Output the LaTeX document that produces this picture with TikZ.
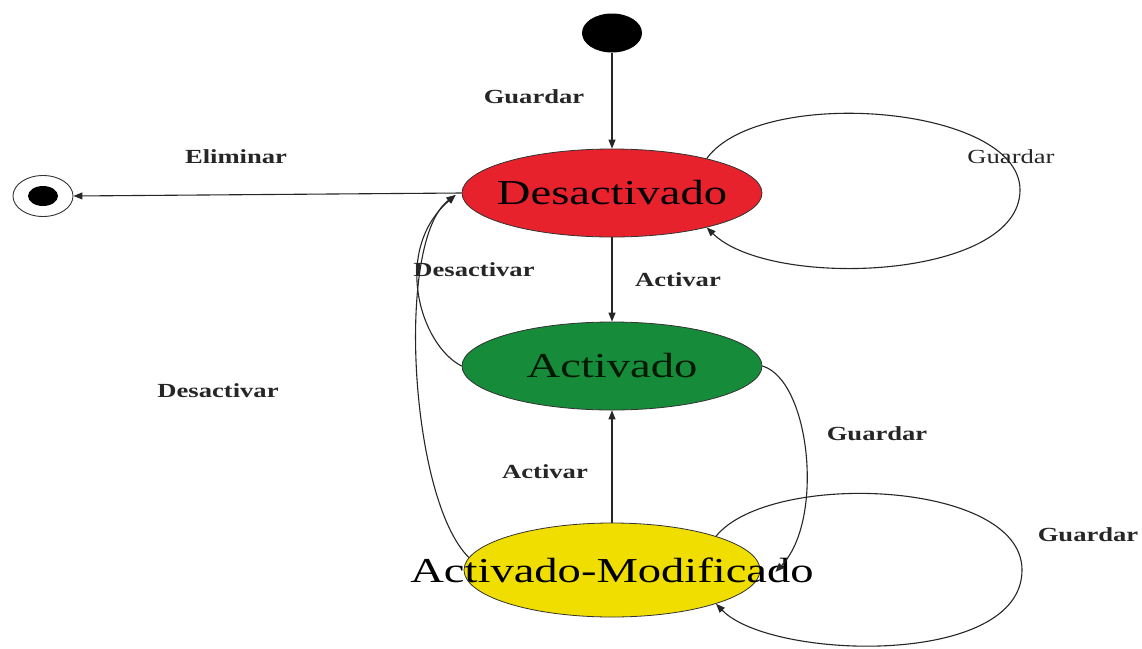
\documentclass[tikz,border=0pt]{standalone}
\usepackage{fontspec}
\setmainfont{Liberation Serif}
\usetikzlibrary{arrows.meta,shapes.geometric}
\definecolor{dred}{RGB}{232,34,44}
\definecolor{dgreen}{RGB}{22,140,58}
\definecolor{dyellow}{RGB}{240,222,0}
\newcommand{\wide}[1]{\scalebox{1.33}[1]{#1}}
\newcommand{\zw}[1]{\makebox[0pt]{\wide{#1}}}
\tikzset{
  state/.style={ellipse, draw=black!80, line width=0.8pt, minimum width=300pt, minimum height=88pt, inner sep=0pt, font=\fontsize{35}{35}\selectfont},
  lbl/.style={font=\fontsize{20}{20}\selectfont\bfseries, text=black!85},
  lblr/.style={font=\fontsize{20}{20}\selectfont, text=black!85},
  conn/.style={draw=black!85, line width=1.1pt, -{Triangle[length=9pt,width=7pt]}},
}
\begin{document}
\begin{tikzpicture}[x=1pt,y=-1pt]
\useasboundingbox (0,0) rectangle (1142,648);
\fill[white] (0,0) rectangle (1142,648);
% nodes
\node[ellipse, fill=black, minimum width=60pt, minimum height=39pt, inner sep=0pt] (I) at (612,33) {};
\node[ellipse, draw=black!80, line width=0.9pt, fill=white, minimum width=60pt, minimum height=41pt, inner sep=0pt] (F) at (43,196) {};
\node[ellipse, fill=black, minimum width=30pt, minimum height=20pt, inner sep=0pt] (Fi) at (43,196) {};
\node[state, fill=dred] (D) at (612,193) {\zw{Desactivado}};
\node[state, fill=dgreen, text=black!75!green!40!black] (A) at (612,366) {\zw{Activado}};
\node[state, fill=dyellow, minimum width=296pt, minimum height=94pt] (M) at (612,570) {\zw{Activado-Modificado}};
% connectors
\draw[conn] (I) -- (D.north);
\draw[conn] (D.west) -- (F.east);
\draw[conn] (D.south) -- (A.north);
\draw[conn] (M.north) -- (A.south);
\draw[conn] (A.west) .. controls (420,345) and (392,250) .. ([xshift=-6pt,yshift=-2pt]D.west);
\draw[conn] (M.175) .. controls (410,500) and (395,240) .. ([xshift=-6pt,yshift=-2pt]D.west);
\draw[conn] (D.20) .. controls (760,85) and (1020,105) .. (1020,190) .. controls (1020,280) and (770,290) .. (D.-20);
\draw[conn] (A.east) .. controls (810,380) and (825,520) .. ([xshift=15pt,yshift=-2pt]M.east);
\draw[conn] (M.18) .. controls (770,470) and (1022,480) .. (1022,570) .. controls (1022,668) and (770,660) .. (M.-18);
% labels
\node[lbl] (l1) at (534,97) {\wide{Guardar}};
\node[lbl] (l2) at (236,157) {\wide{Eliminar}};
\node[lblr] (l3) at (1011,157) {\wide{Guardar}};
\node[lbl] (l4) at (474,270) {\wide{Desactivar}};
\node[lbl] (l5) at (678,280) {\wide{Activar}};
\node[lbl] (l6) at (218,391) {\wide{Desactivar}};
\node[lbl] (l7) at (877,434) {\wide{Guardar}};
\node[lbl] (l8) at (545,472) {\wide{Activar}};
\node[lbl] (l9) at (1088,535) {\wide{Guardar}};
\end{tikzpicture}
\end{document}
